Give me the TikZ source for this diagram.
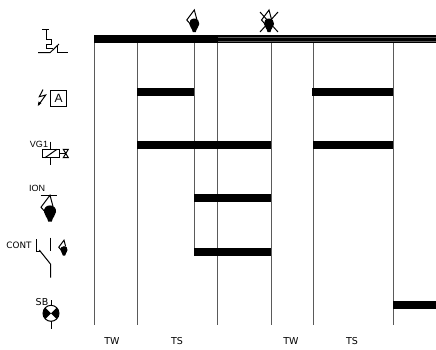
\documentclass[tikz,border=0pt]{standalone}
\usepackage{fontspec}
\setmainfont{Liberation Sans}
\newfontfamily\widefont{DejaVu Sans}
\usepackage{xcolor}
\usepackage{tikz}
\definecolor{gridline}{HTML}{5A5A5A}

\begin{document}
\begin{tikzpicture}[
    x=1pt, y=-1pt,
    sym/.style={line width=1pt, line join=miter},
    gridl/.style={gridline, line width=1pt},
    bar/.style={line width=8pt},
    lbl/.style={font=\fontsize{9}{10}\selectfont, inner sep=0pt},
    phase/.style={font=\widefont\fontsize{9.5}{10}\selectfont, inner sep=0pt},
    flamesym/.pic={
      \fill (0,-5.5) .. controls (3.5,-5.5) and (5.2,-3) .. (5,0)
        .. controls (4.8,3) and (2.2,4) .. (1.5,8) -- (-1.5,8)
        .. controls (-2.2,4) and (-4.8,3) .. (-5,0)
        .. controls (-5.2,-3) and (-3.5,-5.5) .. (0,-5.5) -- cycle;
      \draw[sym] (2.4,-5) -- (0,-14) -- (-7.5,-4) -- (-4,0);
    }
  ]
    \useasboundingbox (0,0) rectangle (436,349);

    % timing grid
    \foreach \xa in {94,137,217,271,313,393}
      \draw[gridl] (\xa,40) -- (\xa,325);
    \draw[gridl] (194,40) -- (194,252);

    % supply bar
    \draw[bar] (94,39.3) -- (436,39.3);
    \draw[gridline, line width=0.4pt] (218,37.4) -- (436,37.4);
    \draw[gridline, line width=0.4pt] (218,41.2) -- (436,41.2);

    % output rows
    \foreach \xa/\xb/\ya in {137/194/92, 312/393/92, 137/271/145, 313/393/145,
                             194/271/198, 194/271/252, 393/436/305}
      \draw[bar] (\xa,\ya) -- (\xb,\ya);

    % top flame marks
    \pic at (194.3,24) {flamesym};
    \pic at (269,24) {flamesym};
    \draw[sym] (260,12) -- (278,32);
    \draw[sym] (278,12) -- (260,32);

    % T contact
    \draw[sym] (42,29) -- (49,29);
    \draw[sym] (46,29) -- (46,39) -- (51,39) -- (51,44) -- (46,44) -- (46,48) -- (53,48);
    \draw[sym] (38,52.7) -- (50,52.7) -- (59,44);
    \draw[sym] (57.5,46) -- (57.5,52.7) -- (67.7,52.7);

    % alarm box
    \draw[sym] (43,89.5) -- (39.3,96.7) -- (45.7,95) -- (38.6,105);
    \fill (37.8,106) -- (38.5,101.5) -- (41.5,103) -- cycle;
    \node[sym, draw, minimum size=16pt, inner sep=0pt, lbl, font=\fontsize{12}{12}\selectfont] (alarm) at (58.7,98) {A};

    % gas valve
    \node[lbl, anchor=center] (vgone) at (39,144) {VG1};
    \draw[sym] (42.7,149.3) rectangle (59.3,157.7);
    \draw[sym] (45,157.7) -- (57,149.3);
    \draw[sym] (50.7,141.7) -- (50.7,149.3);
    \draw[sym] (50.7,157.7) -- (50.7,165);
    \draw[sym] (59.3,153.5) -- (65.5,153.5);
    \draw[sym] (63.3,149.3) -- (68.3,149.3) -- (63.3,157.7) -- (68.3,157.7) -- cycle;

    % ionisation probe
    \node[lbl] (ion) at (37,188) {ION};
    \draw[sym] (40.7,195) -- (56.7,195);
    \pic[scale=1.2] at (50,212) {flamesym};

    % flame contact
    \node[phase, font=\widefont\fontsize{8.8}{10}\selectfont] (cont) at (19,245) {CONT};
    \draw[sym] (36,239) -- (36,251) -- (40.7,251);
    \draw[sym] (50.7,237.7) -- (50.7,251);
    \draw[sym] (39.3,250) -- (50.7,264.3) -- (50.7,277.7);
    \pic[scale=0.7] at (64,250) {flamesym};

    % lamp
    \node[phase] (sb) at (42,302) {SB};
    \draw[sym] (51,300) -- (51,305.5);
    \draw[sym] (51,321) -- (51,329);
    \fill (51,313.3) -- (45.4,307.7) arc (225:135:8) -- cycle;
    \fill (51,313.3) -- (56.6,307.7) arc (-45:45:8) -- cycle;
    \draw[sym] (51,313.3) circle (8);

    % phase names
    \node[phase] (twa) at (112,341) {TW};
    \node[phase] (tsa) at (177,341) {TS};
    \node[phase] (twb) at (291,341) {TW};
    \node[phase] (tsb) at (352,341) {TS};
  \end{tikzpicture}
\end{document}
